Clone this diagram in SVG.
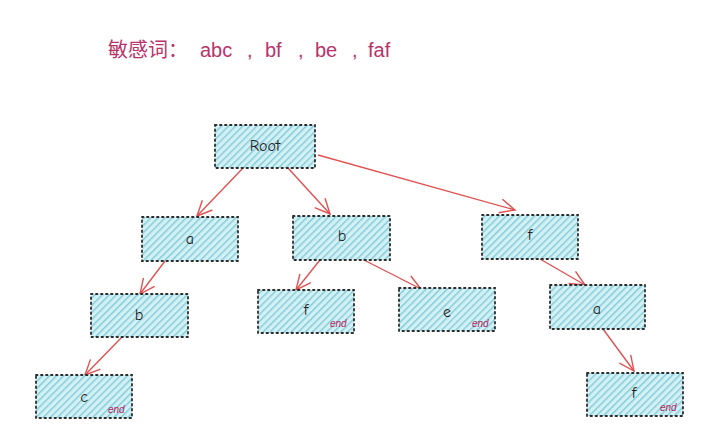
<svg xmlns="http://www.w3.org/2000/svg" width="716" height="441" viewBox="0 0 716 441">
<style>
.box{fill:url(#hatch);stroke:#2b2b2b;stroke-width:1.8;stroke-dasharray:1.5 3.5;stroke-linecap:round}
.lbl{font-family:"Comic Neue","Liberation Sans","Noto Sans",sans-serif;font-size:16px;fill:#1e1e1e;text-anchor:middle;dominant-baseline:middle}
.end{font-family:"Liberation Sans",sans-serif;font-style:italic;font-size:10px;fill:#b0245f}
.edge{stroke:#e05252;stroke-width:1.4;fill:none}
.title{font-family:"Liberation Sans","Noto Sans CJK SC",sans-serif;font-size:20px;fill:#b8336a}
</style>
<defs>
<pattern id="hatch" patternUnits="userSpaceOnUse" width="5" height="5" patternTransform="rotate(45)">
<rect width="5" height="5" fill="#d3f0f4"/>
<line x1="0" y1="0" x2="0" y2="5" stroke="#80ccda" stroke-width="2.8"/>
</pattern>
<marker id="arr" markerWidth="18" markerHeight="16" refX="16" refY="8" orient="auto" markerUnits="userSpaceOnUse">
<path d="M1,1 L16,8 L1,15" fill="none" stroke="#e05252" stroke-width="1.4"/>
</marker>
</defs>
<text class="title" y="57"><tspan x="108">敏感词：</tspan><tspan x="200">abc</tspan><tspan x="247">,</tspan><tspan x="265">bf</tspan><tspan x="298">,</tspan><tspan x="315">be</tspan><tspan x="352">,</tspan><tspan x="368">faf</tspan></text>
<g id="connectors">
<line class="edge" marker-end="url(#arr)" x1="243" y1="168" x2="197" y2="216"/>
<line class="edge" marker-end="url(#arr)" x1="288" y1="168" x2="330" y2="214"/>
<line class="edge" marker-end="url(#arr)" x1="318" y1="155" x2="515" y2="210"/>
<line class="edge" marker-end="url(#arr)" x1="165" y1="261" x2="140" y2="294"/>
<line class="edge" marker-end="url(#arr)" x1="320" y1="260" x2="296" y2="290"/>
<line class="edge" marker-end="url(#arr)" x1="362" y1="259" x2="421" y2="289"/>
<line class="edge" marker-end="url(#arr)" x1="540" y1="259" x2="585" y2="285"/>
<line class="edge" marker-end="url(#arr)" x1="122" y1="337" x2="85" y2="375"/>
<line class="edge" marker-end="url(#arr)" x1="603" y1="329" x2="634" y2="371"/>
</g>
<g id="root"><rect class="box" x="215" y="125" width="100" height="43"/><text class="lbl" x="265" y="147">Root</text></g>
<g id="a1"><rect class="box" x="142" y="217" width="96" height="44"/><text class="lbl" x="190" y="240">a</text></g>
<g id="b1"><rect class="box" x="293" y="216" width="97" height="44"/><text class="lbl" x="342" y="237">b</text></g>
<g id="f1"><rect class="box" x="482" y="215" width="96" height="44"/><text class="lbl" x="530" y="236">f</text></g>
<g id="b2"><rect class="box" x="91" y="294" width="97" height="43"/><text class="lbl" x="139" y="316">b</text></g>
<g id="f2"><rect class="box" x="258" y="290" width="96" height="43"/><text class="lbl" x="306" y="311">f</text><text class="end" x="330" y="327">end</text></g>
<g id="e2"><rect class="box" x="399" y="288" width="96" height="43"/><text class="lbl" x="447" y="313">e</text><text class="end" x="472" y="327">end</text></g>
<g id="a2"><rect class="box" x="550" y="285" width="95" height="44"/><text class="lbl" x="597" y="310">a</text></g>
<g id="c3"><rect class="box" x="36" y="375" width="96" height="43"/><text class="lbl" x="84" y="398">c</text><text class="end" x="108" y="413">end</text></g>
<g id="f3"><rect class="box" x="587" y="373" width="96" height="43"/><text class="lbl" x="634" y="394">f</text><text class="end" x="660" y="411">end</text></g>
</svg>
